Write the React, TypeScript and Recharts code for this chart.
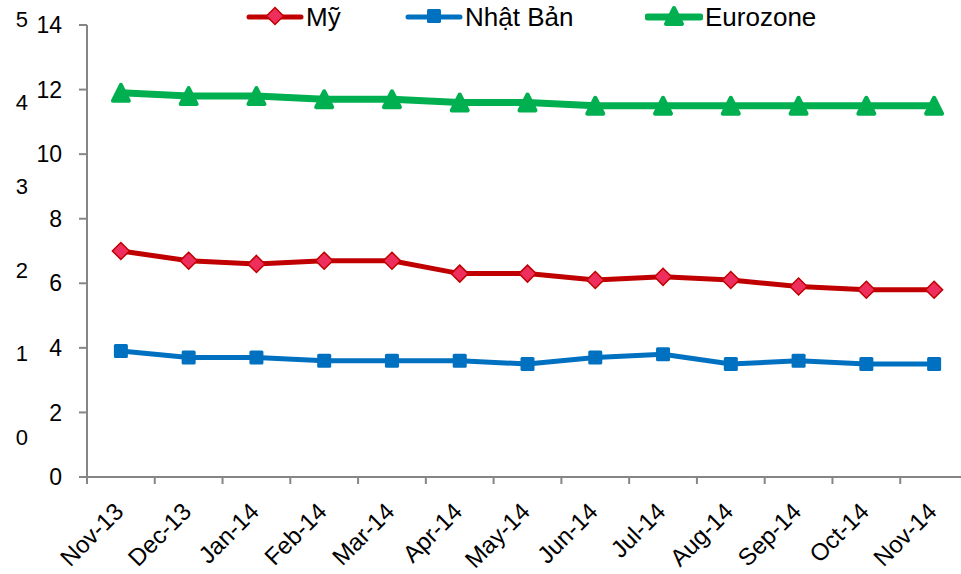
import { Line, LineChart, XAxis, YAxis } from "recharts";

const months = [
  "Nov-13", "Dec-13", "Jan-14", "Feb-14", "Mar-14", "Apr-14", "May-14",
  "Jun-14", "Jul-14", "Aug-14", "Sep-14", "Oct-14", "Nov-14",
];
const my = [7.0, 6.7, 6.6, 6.7, 6.7, 6.3, 6.3, 6.1, 6.2, 6.1, 5.9, 5.8, 5.8];
const nhatBan = [3.9, 3.7, 3.7, 3.6, 3.6, 3.6, 3.5, 3.7, 3.8, 3.5, 3.6, 3.5, 3.5];
const eurozone = [11.9, 11.8, 11.8, 11.7, 11.7, 11.6, 11.6, 11.5, 11.5, 11.5, 11.5, 11.5, 11.5];

const mainTicks = [0, 2, 4, 6, 8, 10, 12, 14];
const auxTicks = [0, 1, 2, 3, 4, 5];

const data = months.map((m, i) => ({ month: m, my: my[i], nhatBan: nhatBan[i], eurozone: eurozone[i] }));

const FONT = "'Liberation Sans', Arial, sans-serif";
const AXIS = "#868686";
const BAND = 881 / months.length;

type Shape = "diamond" | "square" | "triangle";

const series: { key: string; name: string; color: string; fill: string; width: number; shape: Shape }[] = [
  { key: "my", name: "Mỹ", color: "#C00000", fill: "#EE2E5C", width: 5, shape: "diamond" },
  { key: "nhatBan", name: "Nhật Bản", color: "#0070C0", fill: "#0070C0", width: 5, shape: "square" },
  { key: "eurozone", name: "Eurozone", color: "#00B050", fill: "#00B050", width: 7, shape: "triangle" },
];

function Marker({ cx, cy, shape, color, fill }: { cx: number; cy: number; shape: Shape; color: string; fill: string }) {
  if (shape === "diamond") {
    const r = 8.5;
    return (
      <path
        d={`M${cx},${cy - r}L${cx + r},${cy}L${cx},${cy + r}L${cx - r},${cy}Z`}
        fill={fill}
        stroke={color}
        strokeWidth={1.5}
      />
    );
  }
  if (shape === "square") {
    const s = 7;
    return <rect x={cx - s} y={cy - s} width={s * 2} height={s * 2} rx={1.5} fill={fill} />;
  }
  return (
    <path
      d={`M${cx},${cy - 8}L${cx + 8},${cy + 8}L${cx - 8},${cy + 8}Z`}
      fill={fill}
      stroke={fill}
      strokeWidth={4}
      strokeLinejoin="round"
    />
  );
}

function makeDot(s: (typeof series)[number]) {
  return (props: any) => {
    const { cx, cy, index } = props;
    if (cx == null || cy == null) return <g key={index} />;
    return (
      <g key={`${s.key}-${index}`}>
        <Marker cx={cx} cy={cy} shape={s.shape} color={s.color} fill={s.fill} />
      </g>
    );
  };
}

// month label, plus tick marks on the category boundaries
function MonthTick(props: any) {
  const { x, y, payload, index } = props;
  const last = index === months.length - 1;
  return (
    <g>
      <line x1={x - BAND / 2} y1={y} x2={x - BAND / 2} y2={y + 7} stroke={AXIS} strokeWidth={2} />
      {last && <line x1={x + BAND / 2} y1={y} x2={x + BAND / 2} y2={y + 7} stroke={AXIS} strokeWidth={2} />}
      <g transform={`translate(${x + 4},${y + 36})`}>
        <text x={0} y={0} textAnchor="end" transform="rotate(-45)" fontSize={24} fontFamily={FONT} fill="#000">
          {payload.value}
        </text>
      </g>
    </g>
  );
}

const legendLeft = [246, 405, 645];

function Legend() {
  return (
    <div style={{ position: "absolute", left: 0, top: 0, width: 961, height: 36 }}>
      {series.map((s, i) => (
        <div
          key={s.key}
          style={{
            position: "absolute",
            left: legendLeft[i],
            top: 2,
            display: "flex",
            alignItems: "center",
            height: 30,
          }}
        >
          <svg width={58} height={30}>
            <line x1={3} y1={15} x2={55} y2={15} stroke={s.color} strokeWidth={s.width} strokeLinecap="round" />
            <Marker cx={29} cy={14} shape={s.shape} color={s.color} fill={s.fill} />
          </svg>
          <span style={{ fontFamily: FONT, fontSize: 26, color: "#000", marginLeft: 2, lineHeight: "30px" }}>
            {s.name}
          </span>
        </div>
      ))}
    </div>
  );
}

export default function App() {
  return (
    <div
      style={{
        position: "absolute",
        left: 0,
        top: 0,
        width: 961,
        height: 574,
        overflow: "hidden",
        background: "#fff",
      }}
    >
      <LineChart width={975} height={574} data={data} margin={{ top: 25, right: 7, left: 0, bottom: 0 }}>
        <XAxis
          xAxisId="b2"
          dataKey="month"
          interval={0}
          height={97}
          padding={{ left: BAND / 2, right: BAND / 2 }}
          stroke={AXIS}
          strokeWidth={2}
          tickLine={false}
          tickSize={0}
          tickMargin={0}
          tick={<MonthTick />}
        />
        <YAxis
          yAxisId="a1"
          domain={[0, 14]}
          ticks={mainTicks}
          interval={0}
          width={55}
          tickSize={8}
          tickMargin={17}
          stroke={AXIS}
          strokeWidth={2}
          tick={{ fontSize: 23, fontFamily: FONT, fill: "#000" }}
        />
        <YAxis
          yAxisId="b2"
          domain={[-0.4785, 4.928]}
          allowDataOverflow
          ticks={auxTicks}
          interval={0}
          width={32}
          tickSize={0}
          tickMargin={4}
          axisLine={false}
          tickLine={false}
          tick={{ fontSize: 22, fontFamily: FONT, fill: "#000" }}
        />
        {series.map((s) => (
          <Line
            key={s.key}
            xAxisId="b2"
            yAxisId="a1"
            type="linear"
            dataKey={s.key}
            name={s.name}
            stroke={s.color}
            strokeWidth={s.width}
            dot={makeDot(s)}
            activeDot={false}
            isAnimationActive={false}
          />
        ))}
      </LineChart>
      <Legend />
    </div>
  );
}
